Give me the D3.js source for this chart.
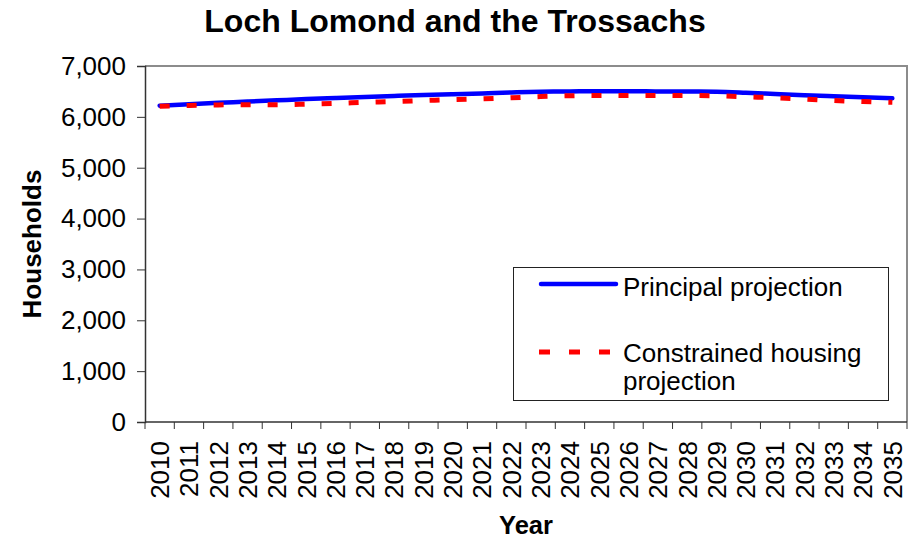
<!DOCTYPE html>
<html>
<head>
<meta charset="utf-8">
<script src="https://cdn.jsdelivr.net/npm/d3@7"></script>
<style>
  body { margin: 0; background: #fff; }
  text { font-family: Arial, "Liberation Sans", sans-serif; fill: #000; }
</style>
</head>
<body>
<svg width="917" height="542"></svg>
<script>
var years = d3.range(2010, 2036).map(String)
var principal = [6220, 6250, 6275, 6300, 6325, 6350, 6370, 6390, 6410, 6430, 6445, 6460, 6480,
  6495, 6500, 6505, 6505, 6500, 6500, 6495, 6475, 6450, 6425, 6405, 6385, 6365]
var constrained = [6210, 6225, 6235, 6240, 6240, 6250, 6265, 6285, 6300, 6320, 6340, 6355, 6375,
  6400, 6415, 6420, 6420, 6420, 6420, 6415, 6395, 6375, 6350, 6320, 6300, 6285]
var yTicks = [0, 1000, 2000, 3000, 4000, 5000, 6000, 7000]

var svg = d3.select('svg')
var plotLeft = 145, plotRight = 907, plotTop = 66, plotBottom = 422

var x = d3.scaleBand().domain(years).range([plotLeft, plotRight])
var y = d3.scaleLinear().domain([0, 7000]).range([plotBottom, plotTop])

// plot frame (top/right grey)
svg.append('path')
  .attr('d', 'M' + plotLeft + ',' + plotTop + 'H' + plotRight + 'V' + plotBottom)
  .attr('fill', 'none')
  .attr('stroke', '#8c8c8c')
  .attr('stroke-width', 2)

// y axis
var yAxis = svg.append('g')
  .attr('transform', 'translate(' + plotLeft + ',0)')
  .call(d3.axisLeft(y).tickValues(yTicks).tickSize(8).tickPadding(11).tickFormat(d3.format(',')))
yAxis.select('.domain').attr('stroke', '#333').attr('stroke-width', 1.5)
yAxis.selectAll('.tick line').attr('stroke', '#333')
yAxis.selectAll('text').style('font-size', '26px').attr('fill', '#000')

// x axis: ticks at category boundaries
var xAxis = svg.append('g')
  .attr('transform', 'translate(0,' + plotBottom + ')')
xAxis.append('line')
  .attr('x1', plotLeft).attr('x2', plotRight)
  .attr('stroke', '#333').attr('stroke-width', 1.5)
xAxis.selectAll('line.tk')
  .data(years.concat(['end']))
  .enter().append('line')
  .attr('class', 'tk')
  .attr('x1', function (d, i) { return plotLeft + i * x.step() })
  .attr('x2', function (d, i) { return plotLeft + i * x.step() })
  .attr('y1', 0).attr('y2', 7)
  .attr('stroke', '#333')
xAxis.selectAll('text')
  .data(years)
  .enter().append('text')
  .attr('transform', function (d) {
    return 'translate(' + (x(d) + x.bandwidth() / 2) + ',19) rotate(-90)'
  })
  .attr('text-anchor', 'end')
  .attr('dy', '0.36em')
  .style('font-size', '26px')
  .text(function (d) { return d })

var line = d3.line()
  .x(function (d, i) { return x(years[i]) + x.bandwidth() / 2 })
  .y(function (d) { return y(d) })
  .curve(d3.curveMonotoneX)

svg.append('path')
  .datum(principal)
  .attr('d', line)
  .attr('fill', 'none')
  .attr('stroke', '#0000ff')
  .attr('stroke-width', 4.5)
  .attr('stroke-linecap', 'round')

svg.append('path')
  .datum(constrained)
  .attr('d', line)
  .attr('fill', 'none')
  .attr('stroke', '#ff0000')
  .attr('stroke-width', 5)
  .attr('stroke-dasharray', '10,17')

// title and axis titles
svg.append('text')
  .attr('x', 455).attr('y', 32)
  .attr('text-anchor', 'middle')
  .style('font-size', '32px').style('font-weight', 'bold')
  .text('Loch Lomond and the Trossachs')

svg.append('text')
  .attr('x', (plotLeft + plotRight) / 2).attr('y', 534)
  .attr('text-anchor', 'middle')
  .style('font-size', '25.5px').style('font-weight', 'bold')
  .text('Year')

svg.append('text')
  .attr('transform', 'translate(41,' + (plotTop + plotBottom) / 2 + ') rotate(-90)')
  .attr('text-anchor', 'middle')
  .style('font-size', '26px').style('font-weight', 'bold')
  .text('Households')

// legend
var legend = svg.append('g')
legend.append('rect')
  .attr('x', 513.5).attr('y', 267.5).attr('width', 375).attr('height', 133)
  .attr('fill', '#fff').attr('stroke', '#222').attr('stroke-width', 1)
legend.append('line')
  .attr('x1', 541).attr('x2', 616).attr('y1', 284).attr('y2', 284)
  .attr('stroke', '#0000ff').attr('stroke-width', 4.5).attr('stroke-linecap', 'round')
legend.append('line')
  .attr('x1', 539).attr('x2', 612).attr('y1', 352).attr('y2', 352)
  .attr('stroke', '#ff0000').attr('stroke-width', 5).attr('stroke-dasharray', '11,19')
legend.append('text').attr('x', 623).attr('y', 296)
  .style('font-size', '26px').text('Principal projection')
legend.append('text').attr('x', 623).attr('y', 362)
  .style('font-size', '26px').text('Constrained housing')
legend.append('text').attr('x', 623).attr('y', 390)
  .style('font-size', '26px').text('projection')
</script>
</body>
</html>
